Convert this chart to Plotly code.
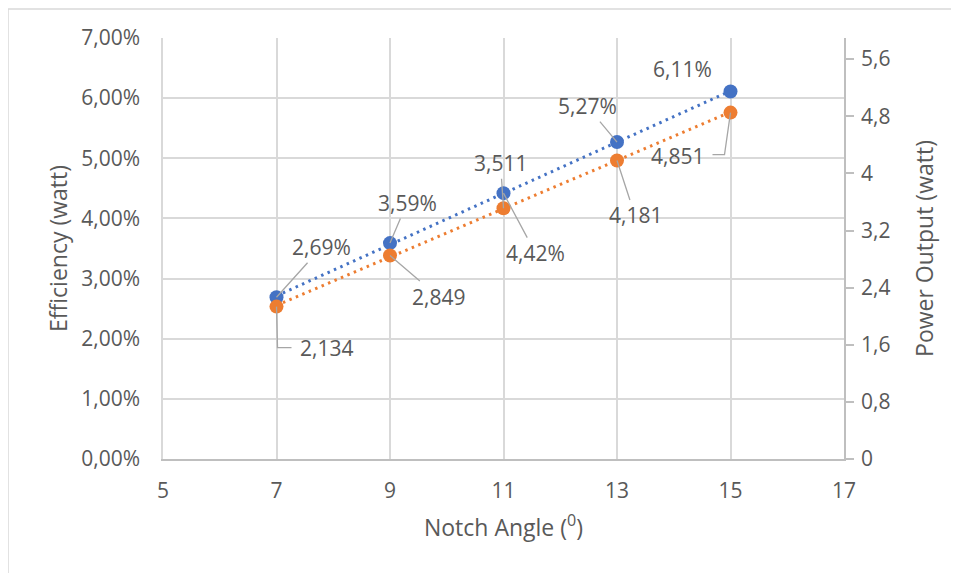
import numpy as np
import plotly.graph_objects as go

notch_angle = [7, 9, 11, 13, 15]
efficiency = [0.0269, 0.0359, 0.0442, 0.0527, 0.0611]
power_output = [2.134, 2.849, 3.511, 4.181, 4.851]

x_ticks = [5, 7, 9, 11, 13, 15, 17]
eff_ticks = [0, 0.01, 0.02, 0.03, 0.04, 0.05, 0.06, 0.07]
pow_ticks = [0, 0.8, 1.6, 2.4, 3.2, 4.0, 4.8, 5.6]
pow_ticklabels = ["0", "0,8", "1,6", "2,4", "3,2", "4", "4,8", "5,6"]

eff_labels = [f"{v*100:.2f}%".replace(".", ",") for v in efficiency]
pow_labels = [f"{v:.3f}".replace(".", ",") for v in power_output]

BLUE = "#4472C4"
ORANGE = "#ED7D31"
TXT = "#595959"
GRID = "#d9d9d9"
LEADER = "#a6a6a6"
FONT = "Open Sans"
FS = 21
TS = 23

fig = go.Figure()

# linear trendlines
xs = np.array([notch_angle[0], notch_angle[-1]], dtype=float)
pe = np.polyfit(notch_angle, efficiency, 1)
pp = np.polyfit(notch_angle, power_output, 1)
fig.add_trace(go.Scatter(x=xs, y=np.polyval(pp, xs), yaxis="y2", mode="lines",
                         line=dict(color=ORANGE, width=3, dash="2.5px,4.5px"),
                         hoverinfo="skip", showlegend=False))
fig.add_trace(go.Scatter(x=xs, y=np.polyval(pe, xs), mode="lines",
                         line=dict(color=BLUE, width=3, dash="2.5px,4.5px"),
                         hoverinfo="skip", showlegend=False))

fig.add_trace(go.Scatter(x=notch_angle, y=efficiency, mode="markers",
                         marker=dict(color=BLUE, size=14), name="Efficiency",
                         showlegend=False))
fig.add_trace(go.Scatter(x=notch_angle, y=power_output, yaxis="y2", mode="markers",
                         marker=dict(color=ORANGE, size=14), name="Power Output",
                         showlegend=False))

# data label offsets (pixels) for text placement
eff_off = [(45, -50, True), (17, -40, True), (32, 60, True), (-30, -36, True), (-48, -23, False)]
pow_off = [(50, 41, False), (48, 41, True), (-3, -45, True), (18, 55, True), (-53, 43, False)]

annotations = []
for xv, yv, lab, (ax, ay, arrow) in zip(notch_angle, efficiency, eff_labels, eff_off):
    if arrow:
        annotations.append(dict(x=xv, y=yv, xref="x", yref="y", text=lab,
                                showarrow=True, arrowhead=0, arrowwidth=1.3,
                                arrowcolor=LEADER, ax=ax, ay=ay, standoff=0,
                                font=dict(size=FS, color=TXT, family=FONT)))
    else:
        annotations.append(dict(x=xv, y=yv, xref="x", yref="y", text=lab,
                                showarrow=False, xshift=ax, yshift=-ay,
                                font=dict(size=FS, color=TXT, family=FONT)))
for xv, yv, lab, (ax, ay, arrow) in zip(notch_angle, power_output, pow_labels, pow_off):
    if arrow:
        annotations.append(dict(x=xv, y=yv, xref="x", yref="y2", text=lab,
                                showarrow=True, arrowhead=0, arrowwidth=1.3,
                                arrowcolor=LEADER, ax=ax, ay=ay, standoff=0,
                                font=dict(size=FS, color=TXT, family=FONT)))
    else:
        annotations.append(dict(x=xv, y=yv, xref="x", yref="y2", text=lab,
                                showarrow=False, xshift=ax, yshift=-ay,
                                font=dict(size=FS, color=TXT, family=FONT)))

shapes = [
    # outer chart border
    dict(type="rect", xref="paper", yref="paper", x0=-0.2276, x1=1.25, y0=-0.4, y1=1.0689,
         line=dict(color=GRID, width=1.5), layer="below"),
    # elbow leader lines
    dict(type="path", xref="x", yref="y2", xsizemode="pixel", ysizemode="pixel",
         xanchor=notch_angle[0], yanchor=power_output[0],
         path="M 0,0 L 1,-41 L 15,-41", line=dict(color=LEADER, width=1.3)),
    dict(type="path", xref="x", yref="y2", xsizemode="pixel", ysizemode="pixel",
         xanchor=notch_angle[4], yanchor=power_output[4],
         path="M 0,0 L -6,-42 L -18,-42", line=dict(color=LEADER, width=1.3)),
]

fig.update_layout(
    width=959, height=573,
    margin=dict(l=155, r=123, t=30, b=122),
    paper_bgcolor="white", plot_bgcolor="white",
    separators=",.",
    font=dict(family=FONT, color=TXT, size=FS),
    showlegend=False,
    annotations=annotations,
    shapes=shapes,
    xaxis=dict(range=[5, 17], tickvals=x_ticks, showgrid=True, gridcolor=GRID, gridwidth=1.5,
               zeroline=False, showline=True, linecolor="#bfbfbf", linewidth=1.5,
               ticks="outside", ticklen=12, tickcolor="rgba(0,0,0,0)",
               tickfont=dict(size=FS, color=TXT, family=FONT),
               title=dict(text="Notch Angle (<sup>0</sup>)", standoff=17,
                          font=dict(size=TS, color=TXT, family=FONT))),
    yaxis=dict(range=[0, 0.07], tickvals=eff_ticks, tickformat=".2%", showgrid=True,
               gridcolor=GRID, gridwidth=1.5, zeroline=False, showline=True,
               linecolor=GRID, linewidth=1.5,
               ticks="outside", ticklen=17, tickcolor="rgba(0,0,0,0)",
               tickfont=dict(size=FS, color=TXT, family=FONT),
               title=dict(text="Efficiency (watt)", standoff=7,
                          font=dict(size=TS, color=TXT, family=FONT))),
    yaxis2=dict(range=[0, 5.896], overlaying="y", side="right", tickvals=pow_ticks,
                ticktext=pow_ticklabels, showgrid=False, zeroline=False, showline=True,
                linecolor="#bfbfbf", linewidth=1.5, ticks="outside", ticklen=8,
                tickcolor="#bfbfbf", tickwidth=1.5, ticklabelstandoff=3,
                tickfont=dict(size=FS, color=TXT, family=FONT),
                title=dict(text="Power Output (watt)", standoff=27,
                           font=dict(size=TS, color=TXT, family=FONT))),
)

fig.write_html("out.html")
